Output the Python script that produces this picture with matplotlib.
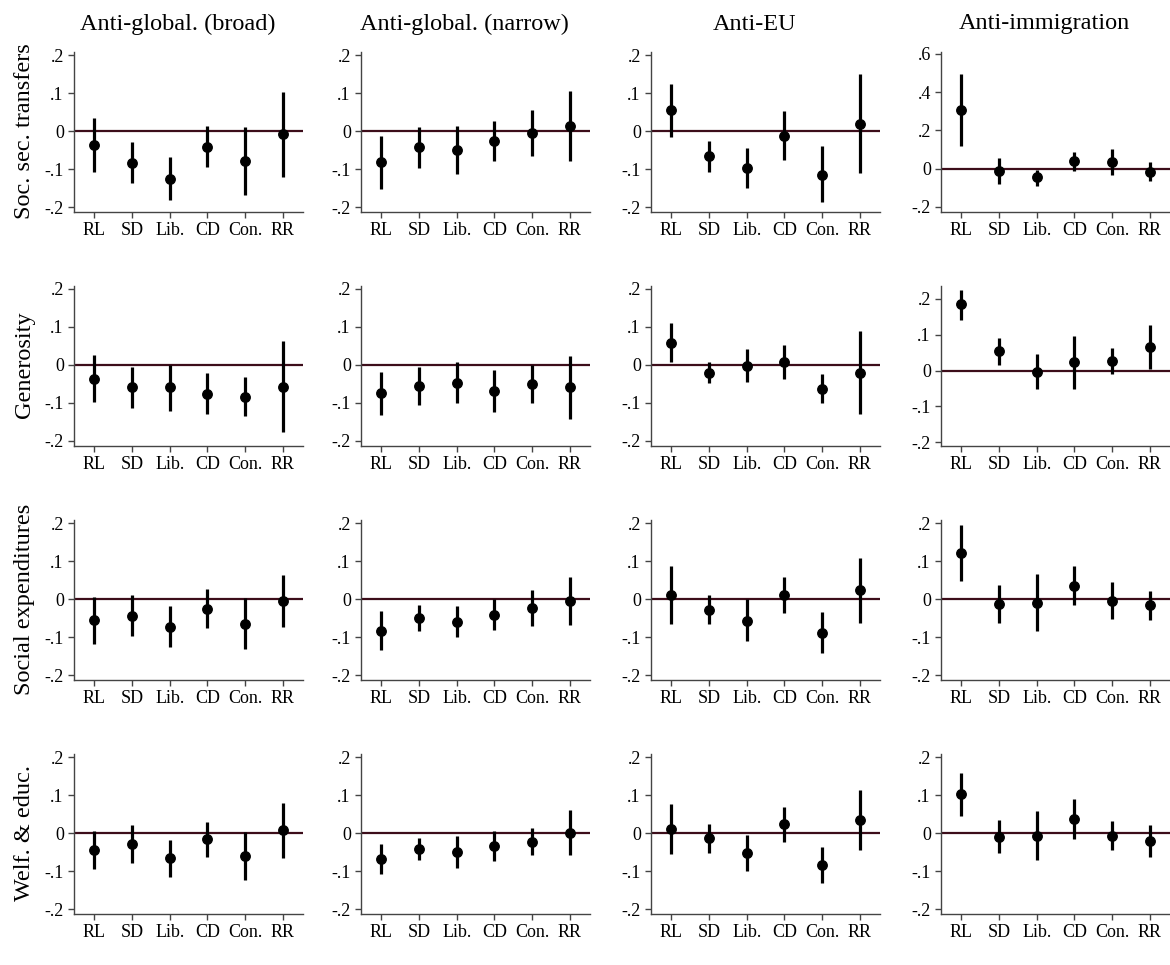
import numpy as np
import matplotlib
matplotlib.use("Agg")
import matplotlib.pyplot as plt

plt.rcParams['font.family'] = ['Liberation Serif', 'DejaVu Serif']

parties = ['RL', 'SD', 'Lib.', 'CD', 'Con.', 'RR']
measures = ['Anti-global. (broad)', 'Anti-global. (narrow)', 'Anti-EU', 'Anti-immigration']
outcomes = ['Soc. sec. transfers', 'Generosity', 'Social expenditures', 'Welf. & educ.']

# each outcome: one list per measure (broad, narrow, EU, immigration)
soc_sec_coef = [[-0.038, -0.083, -0.126, -0.042, -0.079, -0.008],
                [-0.081, -0.043, -0.050, -0.026, -0.005, 0.013],
                [0.055, -0.066, -0.098, -0.013, -0.115, 0.019],
                [0.308, -0.014, -0.045, 0.038, 0.035, -0.016]]
soc_sec_lo = [[-0.108, -0.138, -0.182, -0.096, -0.168, -0.120],
              [-0.152, -0.097, -0.113, -0.079, -0.067, -0.079],
              [-0.015, -0.108, -0.151, -0.077, -0.188, -0.111],
              [0.117, -0.078, -0.089, -0.010, -0.035, -0.066]]
soc_sec_hi = [[0.033, -0.028, -0.069, 0.012, 0.011, 0.103],
              [-0.012, 0.010, 0.012, 0.026, 0.054, 0.104],
              [0.124, -0.025, -0.045, 0.052, -0.040, 0.150],
              [0.496, 0.056, -0.005, 0.087, 0.103, 0.035]]

gen_coef = [[-0.036, -0.059, -0.059, -0.076, -0.083, -0.057],
            [-0.075, -0.056, -0.047, -0.068, -0.051, -0.059],
            [0.059, -0.020, -0.002, 0.007, -0.062, -0.021],
            [0.185, 0.054, -0.004, 0.023, 0.026, 0.066]]
gen_lo = [[-0.098, -0.114, -0.120, -0.130, -0.135, -0.177],
          [-0.132, -0.105, -0.101, -0.123, -0.100, -0.141],
          [0.008, -0.047, -0.046, -0.038, -0.100, -0.130],
          [0.142, 0.015, -0.052, -0.050, -0.009, 0.005]]
gen_hi = [[0.026, -0.005, 0.000, -0.021, -0.032, 0.062],
          [-0.019, -0.006, 0.007, -0.013, -0.001, 0.024],
          [0.111, 0.009, 0.043, 0.053, -0.023, 0.090],
          [0.225, 0.092, 0.045, 0.097, 0.062, 0.127]]

soc_exp_coef = [[-0.056, -0.044, -0.073, -0.026, -0.065, -0.006],
                [-0.083, -0.050, -0.060, -0.042, -0.024, -0.006],
                [0.011, -0.029, -0.057, 0.010, -0.089, 0.023],
                [0.122, -0.014, -0.010, 0.035, -0.005, -0.017]]
soc_exp_lo = [[-0.118, -0.098, -0.126, -0.077, -0.132, -0.074],
              [-0.134, -0.084, -0.101, -0.082, -0.071, -0.069],
              [-0.067, -0.067, -0.111, -0.038, -0.142, -0.063],
              [0.048, -0.064, -0.083, -0.017, -0.053, -0.056]]
soc_exp_hi = [[0.005, 0.011, -0.018, 0.027, 0.002, 0.063],
              [-0.032, -0.015, -0.018, 0.000, 0.023, 0.058],
              [0.086, 0.011, 0.000, 0.059, -0.035, 0.108],
              [0.195, 0.037, 0.065, 0.086, 0.045, 0.022]]

welf_coef = [[-0.046, -0.029, -0.067, -0.017, -0.061, 0.007],
             [-0.068, -0.041, -0.050, -0.033, -0.023, 0.001],
             [0.011, -0.014, -0.053, 0.023, -0.085, 0.035],
             [0.102, -0.010, -0.008, 0.036, -0.008, -0.021]]
welf_lo = [[-0.095, -0.080, -0.116, -0.064, -0.123, -0.065],
           [-0.108, -0.070, -0.091, -0.073, -0.059, -0.058],
           [-0.056, -0.052, -0.099, -0.023, -0.132, -0.044],
           [0.045, -0.053, -0.072, -0.015, -0.046, -0.063]]
welf_hi = [[0.004, 0.022, -0.018, 0.030, 0.003, 0.078],
           [-0.029, -0.012, -0.009, 0.006, 0.014, 0.061],
           [0.077, 0.023, -0.006, 0.068, -0.038, 0.114],
           [0.157, 0.033, 0.058, 0.089, 0.032, 0.022]]

rows = [(soc_sec_coef, soc_sec_lo, soc_sec_hi),
        (gen_coef, gen_lo, gen_hi),
        (soc_exp_coef, soc_exp_lo, soc_exp_hi),
        (welf_coef, welf_lo, welf_hi)]

W, H = 1170, 965
fig = plt.figure(figsize=(W / 100, H / 100), dpi=100)

col_left = [74, 361, 651, 941]
ax_w = 229
zero_y = [131, 365, 599, 833]
px_per = 380  # pixels per unit on standard axes

zero_col = '#3c0d1a'
axis_col = '#444444'

x = np.arange(len(parties))

def fmt(v):
    s = f"{v:.1f}".replace('0.', '.')
    return '0' if abs(v) < 1e-9 else s

for r, (coef, lo, hi) in enumerate(rows):
    top = zero_y[r] - 0.209 * px_per
    bot = zero_y[r] + 0.213 * px_per
    for c in range(4):
        ax = fig.add_axes([col_left[c] / W, 1 - bot / H, ax_w / W, (bot - top) / H])
        ax.axhline(0, color=zero_col, lw=1.6, zorder=1)
        ax.vlines(x, lo[c], hi[c], color='black', lw=2.3, zorder=2)
        ax.plot(x, coef[c], 'o', color='black', ms=6.8, zorder=3)

        if r == 0 and c == 3:
            ylim, yt = (-0.226, 0.612), [-0.2, 0, 0.2, 0.4, 0.6]
        elif r == 1 and c == 3:
            ylim, yt = (-0.21, 0.237), [-0.2, -0.1, 0, 0.1, 0.2]
        else:
            ylim, yt = (-0.213, 0.209), [-0.2, -0.1, 0, 0.1, 0.2]
        ax.set_ylim(*ylim)
        ax.set_yticks(yt, [fmt(v) for v in yt])
        ax.set_xlim(-0.54, 5.54)
        ax.set_xticks(x, parties)

        for s in ['top', 'right']:
            ax.spines[s].set_visible(False)
        for s in ['left', 'bottom']:
            ax.spines[s].set_color(axis_col)
            ax.spines[s].set_linewidth(1.0)
        ax.tick_params(axis='both', colors=axis_col, labelcolor='black',
                       length=4.3, width=1.0, labelsize=13)
        ax.tick_params(axis='y', pad=3)
        ax.tick_params(axis='x', pad=3)
        ax.patch.set_alpha(0)

        if r == 0:
            fig.text((col_left[c] + ax_w / 2 - 11) / W, 1 - 24 / H, measures[c],
                     ha='center', va='center', fontsize=17.5)
    fig.text(25 / W, 1 - zero_y[r] / H, outcomes[r], rotation=90,
             ha='center', va='center', fontsize=17.5)

fig.savefig('out.png', dpi=100, facecolor='white')
